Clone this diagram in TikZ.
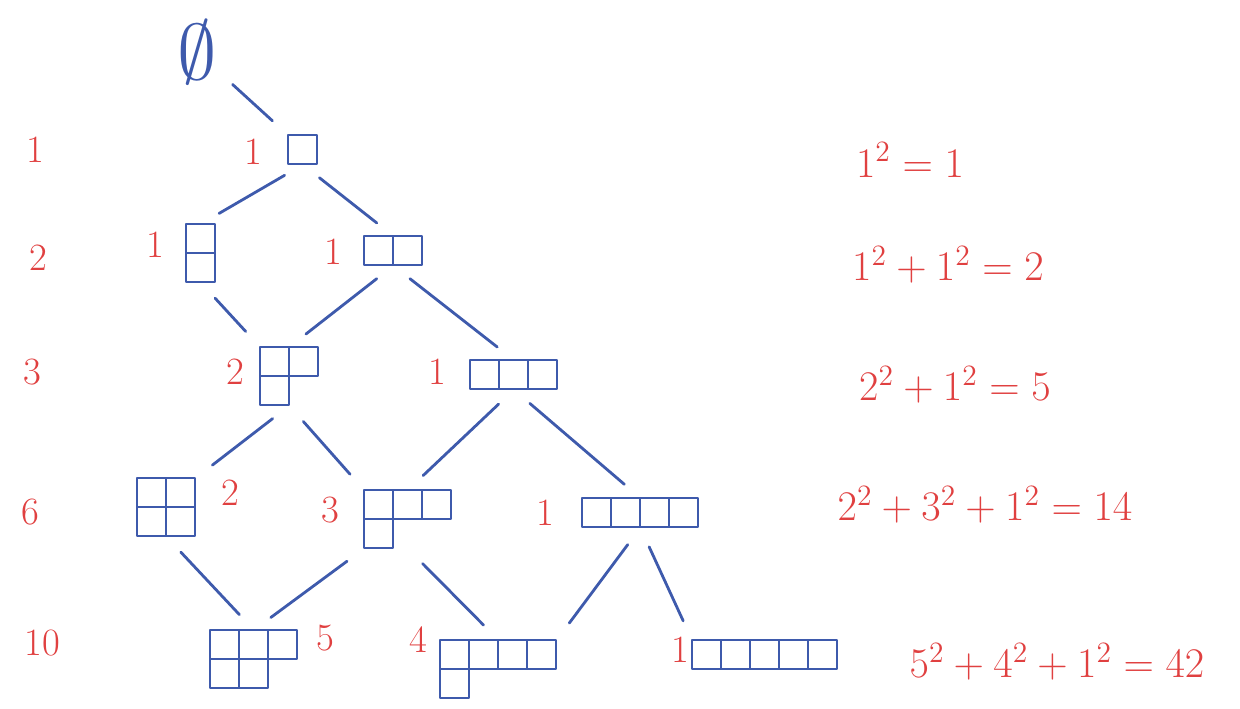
\documentclass[tikz,border=0pt]{standalone}
\usepackage{fix-cm}
\usepackage{amsmath,amssymb}
\usepackage{tikz}
\usetikzlibrary{calc}
\usepackage{xcolor}
\definecolor{ink}{RGB}{62,90,172}
\definecolor{redink}{RGB}{224,64,64}

\tikzset{
  cell/.style={draw=ink, line width=1.5pt, line join=round},
  edge/.style={ink, line width=1.6pt, line cap=round, shorten <=12pt, shorten >=12pt},
  count/.style={text=redink, font=\fontsize{22}{22}\selectfont},
  rank/.style={text=redink, font=\fontsize{22}{22}\selectfont},
  sum/.style={text=redink, font=\fontsize{24}{24}\selectfont},
  hold/.style={inner sep=0pt, anchor=north west},
}

% Young diagram: name, x, y (top left), rows, columns, row lengths
\newcommand{\ydiag}[6]{%
  \node[hold, minimum width=#5*0.58cm, minimum height=#4*0.58cm] (#1) at (#2,#3) {};
  \foreach \len [count=\rw] in {#6}
    \foreach \k in {1,...,\len}
      \draw[cell] (#2+\k*29-29, #3+\rw*29-29) rectangle ++(29,29);
}

\begin{document}
\begin{tikzpicture}[x=0.02cm, y=-0.02cm]
  \useasboundingbox (0,0) rectangle (1240,708);
  % number of partitions on each level
  \node[rank] (n1) at (35,150) {1};
  \node[rank] (n2) at (38,258) {2};
  \node[rank] (n3) at (32,372) {3};
  \node[rank] (n6) at (30,512) {6};
  \node[rank] (n10) at (42,643) {10};
  % empty partition
  \node[text=ink, inner sep=0pt, font=\Huge] (e0) at (197,52) {\scalebox{1.8}{$\emptyset$}};
  % partitions
  \ydiag{p1}{288}{135}{1}{1}{1}
  \ydiag{p11}{186}{224}{2}{1}{1,1}
  \ydiag{p2}{364}{236}{1}{2}{2}
  \ydiag{p21}{260}{347}{2}{2}{2,1}
  \ydiag{p3}{470}{360}{1}{3}{3}
  \ydiag{p22}{137}{478}{2}{2}{2,2}
  \ydiag{p31}{364}{490}{2}{3}{3,1}
  \ydiag{p4}{582}{498}{1}{4}{4}
  \ydiag{p32}{210}{630}{2}{3}{3,2}
  \ydiag{p41}{440}{640}{2}{4}{4,1}
  \ydiag{p5}{692}{640}{1}{5}{5}
  % covering relations
  \draw[edge] (e0) -- (p1.north west);
  \draw[edge] (p1.south) -- (p11.north);
  \draw[edge] (p1.south) -- (p2.north);
  \draw[edge] (p11.south) -- (p21.north west);
  \draw[edge] (p2.south) -- (p21.north);
  \draw[edge] (p2.south) -- (p3.north);
  \draw[edge] (p21.south) -- (p22.north east);
  \draw[edge] (p21.south) -- (p31.north west);
  \draw[edge] (p3.south) -- (p31.north);
  \draw[edge] (p3.south) -- (p4.north);
  \draw[edge] (p22.south) -- (p32.north);
  \draw[edge] (p31.south west) -- (p32.north);
  \draw[edge] (p31.south) -- (p41.north);
  \draw[edge] (p4.south) -- (p41.north east);
  \draw[edge] (p4.south) -- (p5.north west);
  % standard tableaux counts
  \node[count] (c1) at (253,152) {1};
  \node[count] (c11) at (155,245) {1};
  \node[count] (c2) at (333,252) {1};
  \node[count] (c21) at (235,372) {2};
  \node[count] (c3) at (437,372) {1};
  \node[count] (c22) at (230,493) {2};
  \node[count] (c31) at (330,510) {3};
  \node[count] (c4) at (545,513) {1};
  \node[count] (c32) at (325,638) {5};
  \node[count] (c41) at (418,640) {4};
  \node[count] (c5) at (680,650) {1};
  % sums of squares
  \node[sum] (s1) at (910,160) {$1^2=1$};
  \node[sum] (s2) at (948,265) {$1^2+1^2=2$};
  \node[sum] (s3) at (955,385) {$2^2+1^2=5$};
  \node[sum] (s4) at (985,505) {$2^2+3^2+1^2=14$};
  \node[sum] (s5) at (1057,662) {$5^2+4^2+1^2=42$};
\end{tikzpicture}
\end{document}
